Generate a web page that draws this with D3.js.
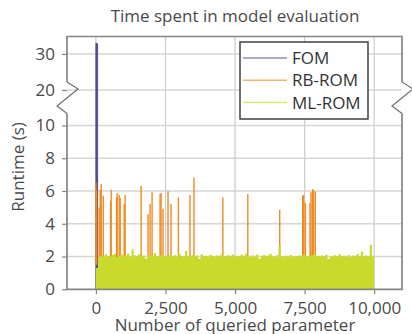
<!DOCTYPE html>
<html>
<head>
<meta charset="utf-8">
<script src="https://cdn.jsdelivr.net/npm/d3@7"></script>
<style>
  body { margin: 0; background: #fff; }
  text { font-family: "Open Sans", sans-serif; }
</style>
</head>
<body>
<script>
var width = 412;
var height = 334;

// tick values
var xTicks = [0, 2500, 5000, 7500, 10000];
var yTicks = [0, 2, 4, 6, 8, 10, 20, 30];

// FOM: only evaluated for the first few queries
var fomQuery = [0, 20, 40, 60];
var fomTime = [33.0, 32.9, 32.9, 32.8];

// RB-ROM: visible spikes above the ML-ROM band
var rbQuery = [0, 25, 118, 154, 190, 262, 527, 548, 742, 763, 835, 871, 1014, 1050,
  1624, 1874, 1946, 2018, 2305, 2340, 2412, 2591, 2699, 2964, 3380, 3523, 4562,
  5458, 6605, 7430, 7466, 7527, 7695, 7731, 7788, 7824, 7885];
var rbTime = [6.52, 6.0, 5.0, 6.08, 6.42, 5.71, 5.41, 6.08, 5.61, 5.88, 5.76, 5.58, 5.21, 5.76,
  6.32, 4.6, 5.21, 5.92, 5.82, 5.88, 4.91, 5.98, 5.21, 5.61, 5.76, 6.83, 5.61,
  5.82, 4.85, 5.71, 5.76, 5.27, 5.27, 5.92, 6.12, 6.02, 5.96];

// ML-ROM: upper envelope per block of 80 queries
var mlBlock = 80;
var mlTime = [
  1.30, 2.00, 2.07, 2.02, 2.14, 2.03, 1.98, 2.09, 2.17, 1.97,
  2.04, 2.12, 2.00, 2.06, 2.19, 1.99, 2.45, 2.07, 2.02, 2.15,
  2.01, 2.06, 1.86, 2.12, 2.04, 1.99, 2.21, 2.03, 1.97, 2.09,
  2.01, 2.05, 1.99, 2.13, 2.02, 2.08, 1.98, 2.17, 2.03, 2.00,
  2.34, 2.04, 1.99, 2.10, 2.02, 2.06, 1.87, 2.14, 2.01, 2.05,
  1.98, 2.11, 2.03, 2.00, 2.07, 2.02, 2.16, 1.99, 2.04, 2.09,
  2.01, 2.13, 1.98, 2.05, 2.02, 2.11, 2.00, 2.18, 2.03, 1.99,
  2.07, 2.01, 2.12, 1.86, 2.04, 2.09, 2.00, 2.06, 2.15, 2.02,
  1.99, 2.08, 2.66, 2.03, 1.98, 2.05, 2.01, 2.10, 1.99, 2.04,
  2.02, 2.07, 2.00, 2.13, 1.98, 2.05, 2.01, 2.09, 2.17, 2.03,
  1.99, 2.06, 2.02, 2.11, 1.87, 2.04, 2.00, 2.08, 2.03, 2.14,
  1.99, 2.05, 2.01, 2.10, 1.98, 2.06, 2.02, 2.15, 2.00, 2.30,
  2.03, 2.07, 2.01, 2.72, 2.05
];

var seriesNames = ["FOM", "RB-ROM", "ML-ROM"];
var seriesColors = ["#584d8a", "#f08a22", "#c8da2c"];

var pLeft = 67, pRight = 402, pTop = 36.5, pBottom = 289.3;
var breakTop = 82, breakBottom = 113.5;

var svg = d3.select("body")
    .append("svg")
    .attr("width", width)
    .attr("height", height);

var x = d3.scaleLinear()
    .domain([-1040, 11000])
    .range([pLeft, pRight]);

// broken y axis: 0..10.7 below the break, 20..34.8 above it
var y = d3.scaleLinear()
    .domain([0, 10.73, 20, 34.85])
    .range([pBottom, breakBottom, 90, pTop]);

var g = svg.append("g");

// grid
g.selectAll(".hgrid")
    .data(yTicks.filter(function(d) { return d > 0; }))
    .enter()
    .append("line")
    .attr("x1", pLeft).attr("x2", pRight)
    .attr("y1", function(d) { return y(d); })
    .attr("y2", function(d) { return y(d); })
    .attr("stroke", "#d6d6d6")
    .attr("stroke-width", 1.5);

g.selectAll(".vgrid")
    .data(xTicks)
    .enter()
    .append("line")
    .attr("x1", function(d) { return x(d); })
    .attr("x2", function(d) { return x(d); })
    .attr("y1", pTop).attr("y2", pBottom)
    .attr("stroke", "#cfcfcf")
    .attr("stroke-width", 1.3);

// FOM
var fomData = fomQuery.map(function(q, i) { return { q: q, v: fomTime[i] }; });
g.append("path")
    .datum(fomData)
    .attr("fill", seriesColors[0])
    .attr("stroke", seriesColors[0])
    .attr("stroke-width", 1)
    .attr("d", d3.area()
        .x(function(d) { return x(d.q); })
        .y0(y(0))
        .y1(function(d) { return y(d.v); }));

// RB-ROM spikes
g.selectAll(".rb")
    .data(rbQuery)
    .enter()
    .append("line")
    .attr("x1", function(d) { return x(d); })
    .attr("x2", function(d) { return x(d); })
    .attr("y1", y(1.5))
    .attr("y2", function(d, i) { return y(rbTime[i]); })
    .attr("stroke", seriesColors[1])
    .attr("stroke-width", 1.4);

// ML-ROM band
var mlData = mlTime.map(function(v, i) { return { q: i * mlBlock, v: v }; });
mlData.push({ q: 10000, v: mlTime[mlTime.length - 1] });
g.append("path")
    .datum(mlData)
    .attr("fill", seriesColors[2])
    .attr("d", d3.area()
        .curve(d3.curveStepAfter)
        .x(function(d) { return x(d.q); })
        .y0(y(0))
        .y1(function(d) { return y(d.v); }));

// frame with break marks
var frameColor = "#858585";
svg.append("path")
    .attr("d", "M" + pLeft + "," + breakTop + "L" + pLeft + "," + pTop + "L" + pRight + "," + pTop +
        "L" + pRight + "," + breakTop)
    .attr("fill", "none").attr("stroke", frameColor).attr("stroke-width", 1.7);
svg.append("path")
    .attr("d", "M" + pLeft + "," + breakBottom + "L" + pLeft + "," + pBottom + "L" + pRight + "," + pBottom +
        "L" + pRight + "," + breakBottom)
    .attr("fill", "none").attr("stroke", frameColor).attr("stroke-width", 1.7);
[pLeft, pRight].forEach(function(ax) {
    svg.append("path")
        .attr("d", "M" + ax + "," + breakTop + "L" + (ax + 11) + "," + 89 +
            "L" + (ax - 10) + "," + 106 + "L" + ax + "," + breakBottom)
        .attr("fill", "none").attr("stroke", "#707070").attr("stroke-width", 1.2);
});

// axes
var yAxis = svg.append("g")
    .attr("transform", "translate(" + pLeft + ",0)")
    .call(d3.axisLeft(y).tickValues(yTicks).tickSize(5).tickPadding(7));
var xAxis = svg.append("g")
    .attr("transform", "translate(0," + pBottom + ")")
    .call(d3.axisBottom(x).tickValues(xTicks).tickSize(5).tickPadding(8).tickFormat(d3.format(",")));
[yAxis, xAxis].forEach(function(a) {
    a.select(".domain").remove();
    a.selectAll(".tick line").attr("stroke", frameColor).attr("stroke-width", 1.2);
    a.selectAll(".tick text")
        .style("font-family", "'Open Sans', sans-serif")
        .style("font-size", "17px")
        .attr("fill", "#4a4a4a");
});

// titles
svg.append("text")
    .attr("x", 235).attr("y", 21.5)
    .attr("text-anchor", "middle")
    .style("font-size", "17px")
    .attr("fill", "#4a4a4a")
    .text("Time spent in model evaluation");

svg.append("text")
    .attr("x", 235).attr("y", 331)
    .attr("text-anchor", "middle")
    .style("font-size", "17px")
    .attr("fill", "#4a4a4a")
    .text("Number of queried parameter");

svg.append("text")
    .attr("transform", "translate(24,167) rotate(-90)")
    .attr("text-anchor", "middle")
    .style("font-size", "17px")
    .attr("fill", "#4a4a4a")
    .text("Runtime (s)");

// legend
var legend = svg.append("g");
legend.append("rect")
    .attr("x", 240).attr("y", 42)
    .attr("width", 128).attr("height", 77)
    .attr("fill", "#fff")
    .attr("stroke", "#333")
    .attr("stroke-width", 1.4);
var item = legend.selectAll(".item")
    .data(seriesNames)
    .enter()
    .append("g")
    .attr("transform", function(d, i) { return "translate(0," + (58 + i * 22.3) + ")"; });
item.append("line")
    .attr("x1", 243).attr("x2", 287)
    .attr("stroke", function(d, i) { return seriesColors[i]; })
    .attr("stroke-opacity", 0.65)
    .attr("stroke-width", 1.5);
item.append("text")
    .attr("x", 292).attr("y", 6)
    .style("font-size", "17px")
    .attr("fill", "#333")
    .text(function(d) { return d; });
</script>
</body>
</html>
